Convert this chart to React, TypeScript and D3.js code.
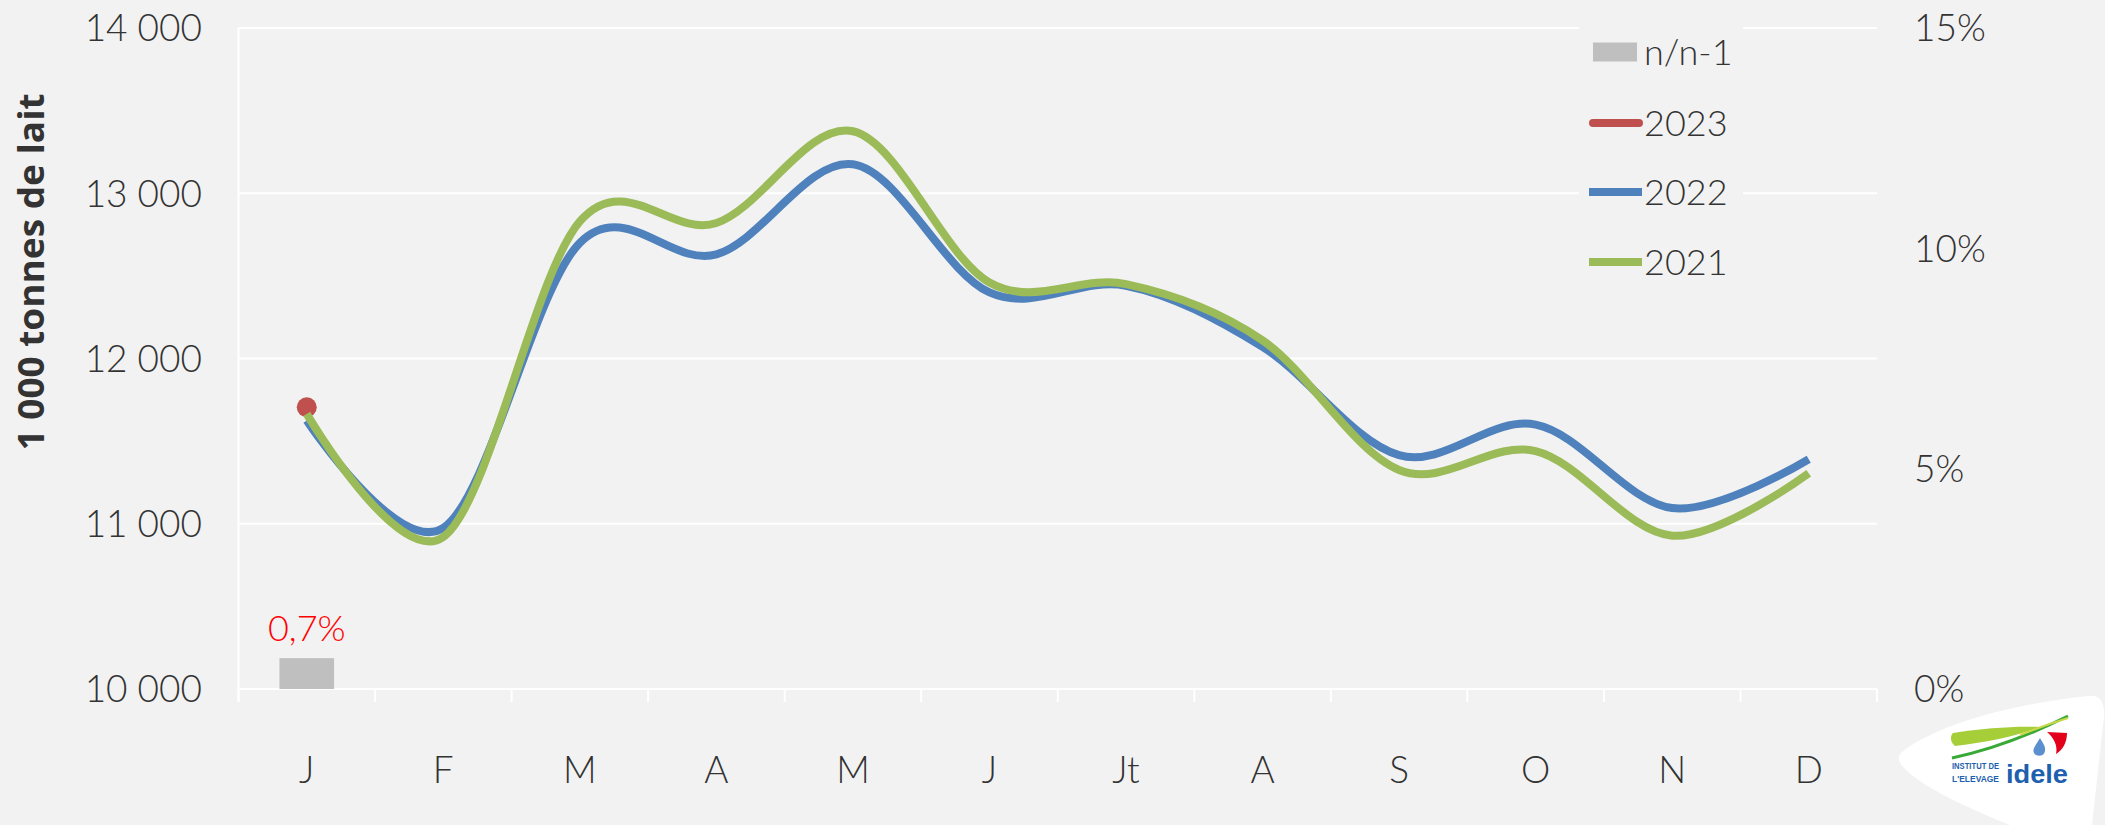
import React from "react";
import * as d3 from "d3";

const months = ["J", "F", "M", "A", "M", "J", "Jt", "A", "S", "O", "N", "D"];
const values2023 = [11705];
const values2022 = [11625, 10975, 12700, 12630, 13175, 12400, 12440, 12070, 11415, 11600, 11095, 11390];
const values2021 = [11665, 10920, 12830, 12820, 13375, 12460, 12450, 12110, 11325, 11440, 10928, 11305];
const variation = [0.007];
const variationLabels = ["0,7%"];
const leftTicks = [10000, 11000, 12000, 13000, 14000];
const rightTicks = [0, 0.05, 0.1, 0.15];
const legendItems = [
  { key: "n/n-1", color: "#bfbfbf", kind: "box" },
  { key: "2023", color: "#c0504d", kind: "round" },
  { key: "2022", color: "#4f81bd", kind: "line" },
  { key: "2021", color: "#9bbb59", kind: "line" },
];

const W = 2105;
const H = 825;
const TICK_FONT = "Lato, 'Open Sans', sans-serif";

export default function App() {
  const idx = months.map((_, i) => String(i));
  const x = d3.scaleBand<string>().domain(idx).range([238.5, 1877]).padding(0);
  const y = d3.scaleLinear().domain([10000, 14000]).range([689, 28]);
  const yr = d3.scaleLinear().domain([0, 0.15]).range([689, 28]);
  const bw = x.bandwidth();
  const cx = (i: number) => (x(String(i)) as number) + bw / 2;

  const line = d3
    .line<number>()
    .x((_, i) => cx(i))
    .y((d) => y(d))
    .curve(d3.curveCardinal.tension(0));

  const fmt = (v: number) => d3.format(",")(v).replace(",", " ");
  const pct = (v: number) => `${Math.round(v * 100)}%`;

  const tickXs = idx.map((k) => x(k) as number).concat([x.range()[1]]);
  const barW = bw * 0.4;

  const legendX = 1590;
  const legendYs = [52, 123, 192, 262];

  return (
    <div style={{ position: "absolute", left: 0, top: 0 }}>
      <svg width={W} height={H} viewBox={`0 0 ${W} ${H}`} style={{ display: "block" }}>
        <rect x={0} y={0} width={W} height={H} fill="#f2f2f2" />

        {/* gridlines */}
        {leftTicks.map((t) => (
          <line key={t} x1={238.5} x2={1877} y1={y(t)} y2={y(t)} stroke="#ffffff" strokeWidth={2} />
        ))}
        {/* left axis line */}
        <line x1={238.5} x2={238.5} y1={y(14000)} y2={702} stroke="#ffffff" strokeWidth={2} />
        {/* x ticks */}
        {tickXs.map((tx, i) => (
          <line key={i} x1={tx} x2={tx} y1={689} y2={702} stroke="#ffffff" strokeWidth={2} />
        ))}

        {/* left tick labels */}
        {leftTicks.map((t) => (
          <text
            key={t}
            x={202}
            y={y(t)}
            dy="0.36em"
            textAnchor="end"
            fontFamily={TICK_FONT}
            fontWeight={300}
            fontSize={37}
            fill="#333333"
          >
            {fmt(t)}
          </text>
        ))}
        {/* right tick labels */}
        {rightTicks.map((t) => (
          <text
            key={t}
            x={1914}
            y={yr(t)}
            dy="0.36em"
            textAnchor="start"
            fontFamily={TICK_FONT}
            fontWeight={300}
            fontSize={37}
            fill="#333333"
          >
            {pct(t)}
          </text>
        ))}
        {/* x labels */}
        {months.map((m, i) => (
          <text
            key={i}
            x={cx(i)}
            y={783}
            textAnchor="middle"
            fontFamily={TICK_FONT}
            fontWeight={300}
            fontSize={37}
            fill="#333333"
          >
            {m}
          </text>
        ))}

        {/* y axis title */}
        <text
          transform={`translate(44, 272) rotate(-90)`}
          textAnchor="middle"
          fontFamily="'Open Sans', 'Liberation Sans', sans-serif"
          fontWeight={700}
          fontSize={36}
          fill="#333333"
          textLength={357}
          lengthAdjust="spacingAndGlyphs"
        >
          1 000 tonnes de lait
        </text>

        {/* n/n-1 bars */}
        {variation.map((v, i) => (
          <g key={i}>
            <rect x={cx(i) - barW / 2} y={yr(v)} width={barW} height={yr(0) - yr(v)} fill="#bfbfbf" />
            <text
              x={cx(i)}
              y={yr(v) - 17}
              textAnchor="middle"
              fontFamily={TICK_FONT}
              fontWeight={300}
              fontSize={36}
              fill="#ff0000"
            >
              {variationLabels[i]}
            </text>
          </g>
        ))}

        {/* 2023 */}
        {values2023.map((v, i) => (
          <circle key={i} cx={cx(i)} cy={y(v)} r={10} fill="#c0504d" />
        ))}
        {values2023.length > 1 && (
          <path d={line(values2023) || ""} fill="none" stroke="#c0504d" strokeWidth={8} strokeLinecap="round" />
        )}
        {/* 2022 */}
        <path d={line(values2022) || ""} fill="none" stroke="#4f81bd" strokeWidth={8} strokeLinejoin="round" />
        {/* 2021 */}
        <path d={line(values2021) || ""} fill="none" stroke="#9bbb59" strokeWidth={8} strokeLinejoin="round" />

        {/* legend */}
        <rect x={1579} y={14} width={164} height={280} fill="#f2f2f2" />
        {legendItems.map((it, i) => {
          const ly = legendYs[i];
          return (
            <g key={it.key}>
              {it.kind === "box" ? (
                <rect x={legendX + 3} y={ly - 9.5} width={44} height={19} fill={it.color} />
              ) : (
                <line
                  x1={it.kind === "round" ? legendX + 3 : legendX - 1}
                  x2={it.kind === "round" ? legendX + 49 : legendX + 52}
                  y1={ly}
                  y2={ly}
                  stroke={it.color}
                  strokeWidth={8}
                  strokeLinecap={it.kind === "round" ? "round" : "butt"}
                />
              )}
              <text
                x={1644}
                y={ly}
                dy="0.36em"
                fontFamily={TICK_FONT}
                fontWeight={300}
                fontSize={36}
                fill="#333333"
              >
                {it.key}
              </text>
            </g>
          );
        })}

        {/* logo */}
        <g>
          <path
            d="M1902,752 C1940,722 2020,703 2088,696 C2104,694 2106,708 2103,725 L2092,825 L2010,825 C1960,805 1920,785 1904,768 C1898,762 1897,756 1902,752 Z"
            fill="#ffffff"
          />
          <path d="M1953,733 C1985,728 2015,726 2040,727 C2020,735 1990,742 1955,746 C1950,742 1950,736 1953,733 Z" fill="#a6ce39" />
          <path d="M1952,758 C1990,750 2030,735 2068,716" fill="none" stroke="#3aa935" strokeWidth={3} />
          <path d="M2020,735 C2040,727 2055,722 2068,718" fill="none" stroke="#c8d84a" strokeWidth={2} />
          <path d="M2047,732 L2067,733 C2067,742 2063,750 2056,754 C2058,746 2054,738 2047,732 Z" fill="#e3001b" />
          <path d="M2040,738 C2036,745 2032,749 2034,753 C2036,757 2044,757 2045,751 C2046,746 2042,742 2040,738 Z" fill="#5b8fd0" />
          <text x={1952} y={769} fontFamily="'Liberation Sans', Arial, sans-serif" fontWeight={700} fontSize={9.5} fill="#1e5fae" textLength={47} lengthAdjust="spacingAndGlyphs">
            INSTITUT DE
          </text>
          <text x={1952} y={782} fontFamily="'Liberation Sans', Arial, sans-serif" fontWeight={700} fontSize={9.5} fill="#1e5fae" textLength={47} lengthAdjust="spacingAndGlyphs">
            L'ELEVAGE
          </text>
          <text x={2006} y={783} fontFamily="'Liberation Sans', Arial, sans-serif" fontWeight={700} fontSize={26} fill="#1e5fae" textLength={62} lengthAdjust="spacingAndGlyphs">
            idele
          </text>
        </g>
      </svg>
    </div>
  );
}
